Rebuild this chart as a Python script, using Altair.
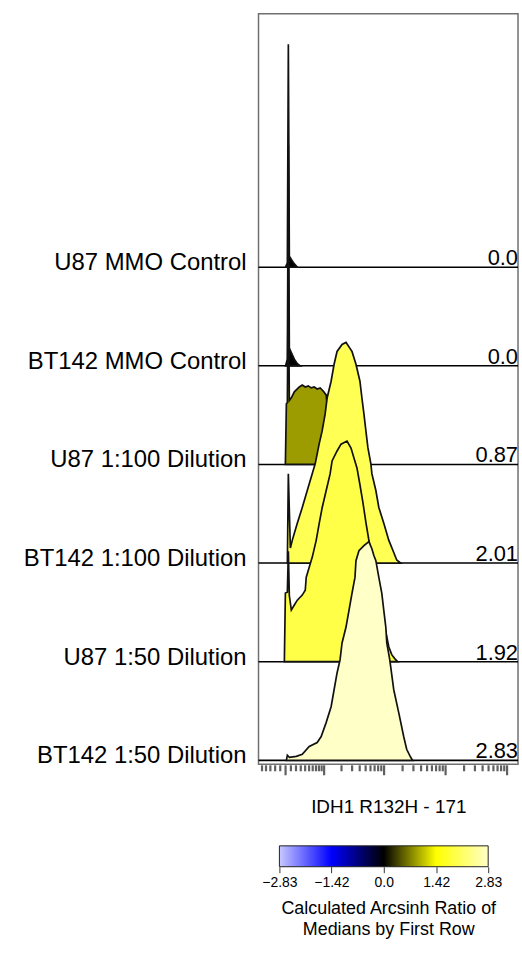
import math

import altair as alt
import pandas as pd

FONT = "Liberation Sans"

# Samples, top to bottom, and their arcsinh ratio of medians vs. the first row
sample_names = [
    "U87 MMO Control",
    "BT142 MMO Control",
    "U87 1:100 Dilution",
    "BT142 1:100 Dilution",
    "U87 1:50 Dilution",
    "BT142 1:50 Dilution",
]
ratio_values = [0.0, 0.0, 0.87, 2.01, 1.92, 2.83]

# Histogram outlines: bin position in arcsinh units (cofactor 5) and % of mode
hist_u = [
    [0.000, 0.067, 0.104, 0.141, 0.216, 0.328, 0.440],
    [0.000, 0.067, 0.104, 0.141, 0.216, 0.328, 0.440, 0.550],
    [-0.007, 0.030, 0.067, 0.104, 0.141, 0.216, 0.328, 0.514, 0.625, 0.737,
     0.849, 0.960, 1.072, 1.184, 1.296, 1.407, 1.519, 1.593, 1.668, 1.742],
    [0.067, 0.104, 0.179, 0.253, 0.328, 0.439, 0.625, 0.812, 0.998, 1.109,
     1.184, 1.258, 1.370, 1.482, 1.556, 1.705, 1.817, 1.928, 2.115, 2.264,
     2.412, 2.487, 2.636, 2.785, 2.859, 2.934, 3.008, 3.083, 3.194, 3.232,
     3.381, 3.492, 3.678, 3.864, 4.013, 4.162, 4.311],
    [-0.045, -0.007, 0.067, 0.104, 0.141, 0.216, 0.328, 0.439, 0.625, 0.737,
     0.774, 0.886, 0.960, 0.998, 1.147, 1.258, 1.370, 1.519, 1.668, 1.742,
     1.928, 2.077, 2.301, 2.450, 2.561, 2.673, 2.785, 2.897, 3.008, 3.120,
     3.269, 3.418, 3.567, 3.716, 3.864, 3.976, 4.088, 4.200],
    [0.030, 0.067, 0.141, 0.402, 0.625, 0.886, 1.184, 1.333, 1.519, 1.705,
     1.817, 1.928, 2.040, 2.115, 2.264, 2.375, 2.487, 2.599, 2.636, 2.748,
     2.934, 3.120, 3.232, 3.306, 3.381, 3.492, 3.604, 3.678, 3.753, 3.790,
     3.902, 4.051, 4.237, 4.423, 4.535, 4.684, 4.758],
]
hist_pct = [
    [0, 2.0, 101.0, 5.0, 3.5, 1.5, 0],
    [0, 3.0, 100.0, 8.0, 6.0, 3.0, 1.0, 0],
    [0, 27.5, 28.0, 92.0, 29.0, 30.2, 32.9, 35.1, 36.0, 35.1,
     35.6, 34.7, 35.1, 34.2, 34.7, 33.3, 31.5, 22.5, 9.0, 0],
    [0, 40.5, 6.8, 10.4, 13.5, 18.0, 25.2, 32.9, 40.5, 45.0,
     49.5, 54.0, 59.9, 67.6, 74.8, 82.4, 90.1, 95.9, 99.1, 100.0,
     97.3, 95.9, 90.1, 82.4, 74.8, 67.6, 59.9, 52.3, 45.0, 40.5,
     32.9, 25.2, 18.0, 10.4, 5.9, 1.4, 0],
    [0, 31.1, 31.5, 50.0, 30.0, 23.4, 25.7, 27.9, 30.2, 32.4,
     38.3, 42.8, 45.9, 47.3, 55.0, 62.6, 69.8, 77.5, 85.1, 91.0,
     95.5, 98.6, 100.0, 96.8, 92.3, 87.8, 80.2, 72.1, 63.1, 55.0,
     45.0, 35.1, 24.8, 15.8, 6.8, 3.2, 1.4, 0],
    [0, 2.3, 1.4, 1.8, 2.7, 6.3, 8.1, 10.8, 17.1, 24.3,
     32.0, 39.6, 45.5, 53.2, 60.4, 68.0, 75.7, 82.9, 90.5, 95.0,
     97.3, 99.1, 95.9, 92.8, 90.5, 82.9, 75.7, 68.0, 60.4, 53.2,
     45.5, 32.0, 21.6, 10.8, 5.0, 1.4, 0],
]

# Raw-intensity tick marks of the arcsinh axis
COFACTOR = 5
tick_minor = [-5, -4, -3, -2, -1,
              1, 2, 3, 4, 5, 6, 7, 8, 9,
              20, 30, 40, 50, 60, 70, 80, 90,
              200, 300, 400, 500, 600, 700, 800, 900,
              2000, 3000, 4000, 5000, 6000, 7000, 8000, 9000]
tick_major = [0, 10, 100, 1000, 10000]

# Ratio colour scale
scale_stops = [-2.83, -1.42, 0.0, 1.42, 2.83]
scale_colors = ["#c8c8ff", "#0000ff", "#000000", "#ffff00", "#ffffc8"]

ROW_STEP = 44.7  # vertical offset between stacked histograms (% of mode)
PLOT_W, PLOT_H = 261, 755
n = len(sample_names)


def ratio_label(v):
    return "0.0" if v == 0 else f"{v:.2f}"


rows_df = pd.DataFrame({
    "row": sample_names,
    "ratio": ratio_values,
    "base": [(n - 1 - i) * ROW_STEP for i in range(n)],
    "label": [ratio_label(v) for v in ratio_values],
})

records = []
for i, name in enumerate(sample_names):
    base = (n - 1 - i) * ROW_STEP
    for u, p in zip(hist_u[i], hist_pct[i]):
        records.append({"row": name, "ratio": ratio_values[i], "u": u,
                        "y": base + p, "base": base})
hist_df = pd.DataFrame(records)

# tick positions on the arcsinh axis
minor_df = pd.DataFrame({"u": [math.asinh(v / COFACTOR) for v in tick_minor]})
major_df = pd.DataFrame({"u": [math.asinh(v / COFACTOR) for v in tick_major]})

x_scale = alt.Scale(domain=[-1.013, 8.704], nice=False, zero=False)
y_scale = alt.Scale(domain=[-1.8, 338.4], nice=False, zero=False)
fill_scale = alt.Scale(domain=scale_stops, range=scale_colors, interpolate="rgb")
x_axis = alt.Axis(title="IDH1 R132H - 171", ticks=False, labels=False,
                  domain=False, grid=False, titleFontSize=19,
                  titleFontWeight="normal", titleColor="black",
                  titlePadding=33, titleFont=FONT)

layers = []
for name in sample_names:
    sel = alt.datum.row == name
    baseline = alt.Chart(rows_df).transform_filter(sel).mark_rule(
        color="black", strokeWidth=1.6
    ).encode(y=alt.Y("base:Q", scale=y_scale, axis=None))
    area = alt.Chart(hist_df).transform_filter(sel).mark_area(
        stroke="#111111", strokeWidth=1.7, interpolate="linear"
    ).encode(
        x=alt.X("u:Q", scale=x_scale, axis=x_axis),
        y=alt.Y("y:Q", scale=y_scale, axis=None),
        y2="base:Q",
        fill=alt.Fill("ratio:Q", scale=fill_scale, legend=None),
    )
    layers += [baseline, area]

minor_ticks = alt.Chart(minor_df).mark_rule(
    color="#606060", strokeWidth=2.2
).encode(x=alt.X("u:Q", scale=x_scale, axis=x_axis),
         y=alt.value(PLOT_H + 1), y2=alt.value(PLOT_H + 7))
major_ticks = alt.Chart(major_df).mark_rule(
    color="#606060", strokeWidth=2.2
).encode(x=alt.X("u:Q", scale=x_scale, axis=x_axis),
         y=alt.value(PLOT_H + 1), y2=alt.value(PLOT_H + 11))

names = alt.Chart(rows_df).mark_text(
    align="right", baseline="middle", fontSize=24, font=FONT,
    dx=-12, dy=-4, color="black"
).encode(x=alt.value(0), y=alt.Y("base:Q", scale=y_scale, axis=None),
         text="row:N")

values = alt.Chart(rows_df).mark_text(
    align="right", baseline="alphabetic", fontSize=22, font=FONT,
    dy=-2, color="black"
).encode(x=alt.value(PLOT_W), y=alt.Y("base:Q", scale=y_scale, axis=None),
         text="label:N")

top = alt.layer(*layers, minor_ticks, major_ticks, names, values).properties(
    width=PLOT_W, height=PLOT_H,
    view=alt.ViewBackground(stroke="#707070", strokeWidth=1.5),
)

# Colour bar for the ratio scale
lo, hi = scale_stops[0], scale_stops[-1]
gradient = {
    "gradient": "linear",
    "x1": 0, "x2": 1, "y1": 0, "y2": 0,
    "stops": [{"offset": (v - lo) / (hi - lo), "color": c}
              for v, c in zip(scale_stops, scale_colors)],
}
cb_df = pd.DataFrame({"lo": [lo], "hi": [hi]})
cbar = alt.Chart(cb_df).mark_rect(
    fill=gradient, stroke="#222222", strokeWidth=1
).encode(
    x=alt.X("lo:Q",
            scale=alt.Scale(domain=[-3.396, 3.639], nice=False, zero=False),
            axis=alt.Axis(values=scale_stops,
                          labelExpr="datum.value == 0 ? '0.0' : format(datum.value, '.2f')",
                          domain=False, grid=False, tickColor="#333333",
                          tickSize=6, labelFontSize=14, labelColor="black",
                          labelPadding=3,
                          title=["Calculated Arcsinh Ratio of",
                                 "Medians by First Row"],
                          titleFontSize=18, titleFontWeight="normal",
                          titleColor="black", titlePadding=10,
                          titleLineHeight=21)),
    x2="hi:Q",
).properties(width=PLOT_W, height=21)

chart = alt.vconcat(top, cbar, spacing=28).configure(
    font=FONT
).configure_view(stroke="transparent").properties(
    padding={"left": 23, "top": 10, "right": 2, "bottom": 2}
)

chart.save("out.html", embed_options={"renderer": "svg", "actions": False})
